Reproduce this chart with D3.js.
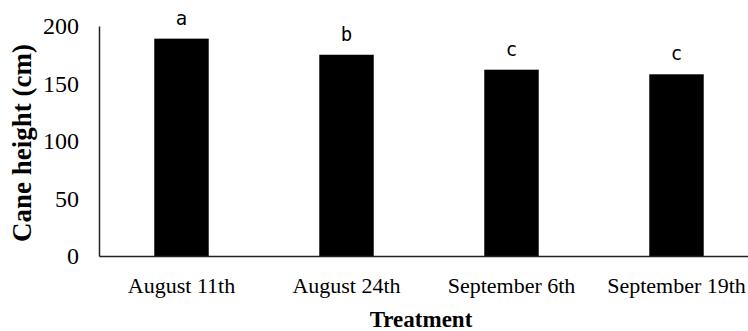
<!DOCTYPE html>
<html>
<head>
<meta charset="utf-8">
<script src="https://cdn.jsdelivr.net/npm/d3@7"></script>
<style>
  html, body { margin: 0; padding: 0; background: #fff; }
  svg { display: block; }
</style>
</head>
<body>
<div id="chart"></div>
<script>
// chart data
var categories = ['August 11th', 'August 24th', 'September 6th', 'September 19th'];
var heights = [189, 175, 162, 158];
var letters = ['a', 'b', 'c', 'c'];
var yTicks = [0, 50, 100, 150, 200];

var width = 748,
    height = 331,
    serif = '"Liberation Serif", "Times New Roman", serif'
;

var svg = d3.select('#chart')
  .append('svg')
    .attr('width', width)
    .attr('height', height)
;

// scales
var x = d3.scaleBand()
  .domain(categories)
  .range([99, 759])
  .paddingInner(0.67)
  .paddingOuter(0.335)
;

var y = d3.scaleLinear()
  .domain([0, 200])
  .range([256, 26])
;

// bars
svg.selectAll('rect.bar')
  .data(heights)
  .enter()
    .append('rect')
    .attr('class', 'bar')
    .attr('x', function(d, i) { return x(categories[i]); })
    .attr('width', x.bandwidth())
    .attr('y', function(d) { return y(d); })
    .attr('height', function(d) { return y(0) - y(d); })
    .attr('fill', '#000')
;

// significance letters
svg.selectAll('text.letter')
  .data(heights)
  .enter()
    .append('text')
    .attr('class', 'letter')
    .attr('x', function(d, i) { return x(categories[i]) + x.bandwidth() / 2; })
    .attr('y', function(d) { return y(d) - 14; })
    .attr('text-anchor', 'middle')
    .style('font-family', '"DejaVu Sans Mono", monospace')
    .style('font-size', '19px')
    .text(function(d, i) { return letters[i]; })
;

// y axis
var yAxis = svg.append('g')
  .attr('transform', 'translate(99,0)')
  .call(d3.axisLeft(y).tickValues(yTicks).tickSize(0).tickPadding(20))
;
yAxis.select('.domain').attr('stroke', '#222').attr('stroke-width', 1.5);
yAxis.selectAll('text')
  .style('font-family', serif)
  .style('font-size', '24px')
  .attr('fill', '#000')
;

// x axis
var xAxis = svg.append('g')
  .attr('transform', 'translate(0,256)')
  .call(d3.axisBottom(x).tickSize(0).tickPadding(21))
;
xAxis.select('.domain').attr('stroke', '#222').attr('stroke-width', 1.5);
xAxis.selectAll('text')
  .style('font-family', serif)
  .style('font-size', '22px')
  .attr('fill', '#000')
;

// axis titles
svg.append('text')
  .attr('x', 421)
  .attr('y', 327)
  .attr('text-anchor', 'middle')
  .style('font-family', serif)
  .style('font-weight', 'bold')
  .style('font-size', '23px')
  .text('Treatment')
;

svg.append('text')
  .attr('transform', 'translate(31,143) rotate(-90)')
  .attr('text-anchor', 'middle')
  .style('font-family', serif)
  .style('font-weight', 'bold')
  .style('font-size', '27px')
  .text('Cane height (cm)')
;
</script>
</body>
</html>
